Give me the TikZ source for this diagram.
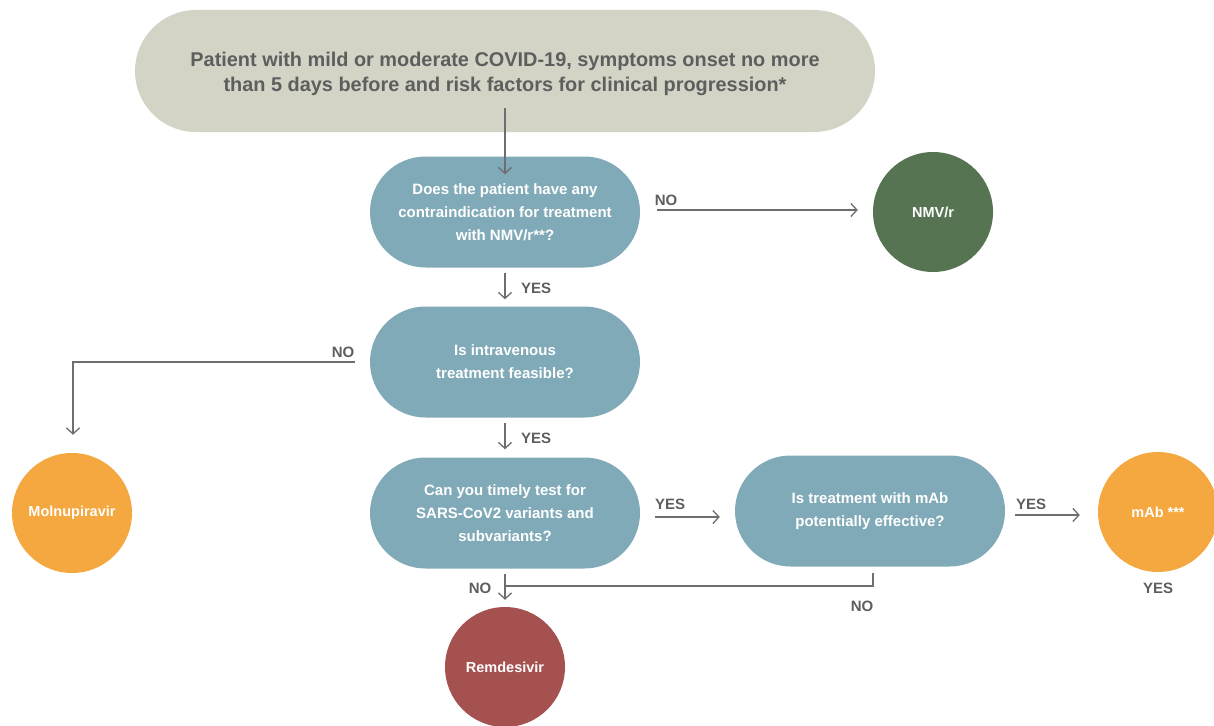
\documentclass[tikz,border=0pt]{standalone}
\usepackage{fontspec}
\setmainfont{Liberation Sans}
\usetikzlibrary{shapes.misc,arrows.meta,calc}
\definecolor{topc}{HTML}{D3D4C6}
\definecolor{qc}{HTML}{81AAB8}
\definecolor{greenc}{HTML}{567452}
\definecolor{orangec}{HTML}{F4A83F}
\definecolor{redc}{HTML}{A5514F}
\definecolor{txtc}{HTML}{5E5E5E}
\definecolor{linec}{HTML}{6E6E6E}
\tikzset{
  startbox/.style={rounded rectangle, fill=topc, minimum width=740pt, minimum height=122pt,
    inner sep=0pt, align=center, text=txtc, font=\bfseries\fontsize{19.9}{25}\selectfont},
  decision/.style={rounded rectangle, fill=qc, minimum width=270pt, minimum height=111pt,
    inner sep=0pt, align=center, text=white, font=\bfseries\fontsize{15}{23}\selectfont},
  drug/.style={circle, minimum size=120pt, inner sep=0pt, text=white,
    font=\bfseries\fontsize{14.5}{17}\selectfont},
  lbl/.style={text=txtc, inner sep=0pt, font=\bfseries\fontsize{15}{17}\selectfont},
  arr/.style={draw=linec, line width=1.3pt, -{Straight Barb[length=6pt,width=13pt]}},
  ln/.style={draw=linec, line width=1.3pt}
}
\begin{document}
\begin{tikzpicture}[x=1pt,y=-1pt]
\useasboundingbox (0,0) rectangle (1214,725);
\node[startbox, minimum height=122pt] (top) at (505,71) {};
\node[text=txtc, align=center, inner sep=0pt, font=\bfseries\fontsize{19.9}{25}\selectfont] (toptext) at (505,74) {Patient with mild or moderate COVID-19, symptoms onset no more\\than 5 days before and risk factors for clinical progression*};
\node[decision] (q1) at (505,212) {Does the patient have any\\contraindication for treatment\\with NMV/r**?};
\node[decision] (q2) at (505,362) {Is intravenous\\treatment feasible?};
\node[decision] (q3) at (505,513) {Can you timely test for\\SARS-CoV2 variants and\\subvariants?};
\node[decision] (q4) at (870,511) {Is treatment with mAb\\potentially effective?};
\node[drug, fill=greenc] (nmv) at (933,212) {NMV/r};
\node[drug, fill=orangec] (molnu) at (72,513) {Molnupiravir};
\node[drug, fill=orangec] (mab) at (1158,512) {mAb ***};
\node[drug, fill=redc] (rem) at (505,667) {Remdesivir};

\node[lbl] (l1) at (666,200) {NO};
\node[lbl] (l2) at (536,288) {YES};
\node[lbl] (l3) at (343,352) {NO};
\node[lbl] (l4) at (536,438) {YES};
\node[lbl] (l5) at (670,504) {YES};
\node[lbl] (l6) at (1031,504) {YES};
\node[lbl] (l7) at (1158,588) {YES};
\node[lbl] (l8) at (480,588) {NO};
\node[lbl] (l9) at (862,606) {NO};

\coordinate (j) at (505,586);

\draw[arr] ([yshift=24pt]top.south) -- ([yshift=-18pt]q1.north);
\draw[arr] ([xshift=17pt,yshift=2pt]q1.east) -- ([xshift=-15pt,yshift=2pt]nmv.west);
\draw[arr] ([yshift=-5pt]q1.south) -- ([yshift=7pt]q2.north);
\draw[arr] ([xshift=-15pt]q2.west) -| ([xshift=1pt,yshift=18pt]molnu.north);
\draw[arr] ([yshift=-5pt]q2.south) -- ([yshift=8pt]q3.north);
\draw[arr] ([xshift=15pt,yshift=-4pt]q3.east) -- ([xshift=-15pt,yshift=-6pt]q4.west);
\draw[arr] ([xshift=10pt,yshift=-4pt]q4.east) -- ([xshift=-18pt,yshift=-3pt]mab.west);
\draw[arr] ([yshift=-5pt]q3.south) -- ([yshift=7pt]rem.north);
\draw[ln] ([xshift=3pt,yshift=-6pt]q4.south) |- (j);
\end{tikzpicture}
\end{document}
